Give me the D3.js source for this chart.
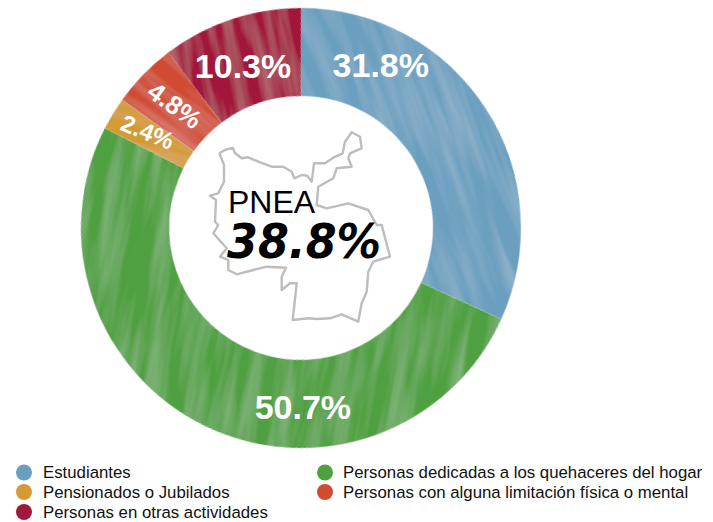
<!DOCTYPE html>
<html><head><meta charset="utf-8">
<script src="https://cdn.jsdelivr.net/npm/d3@7"></script>
<style>html,body{margin:0;padding:0;background:#fff}svg{display:block}text{font-family:"Liberation Sans",Arial,sans-serif}</style>
</head><body><div id="c"></div>
<script>
const categories=["Estudiantes","Personas dedicadas a los quehaceres del hogar","Pensionados o Jubilados","Personas con alguna limitación física o mental","Personas en otras actividades"];
const values=[31.8,50.7,2.4,4.8,10.3];
const colors=["#6a9fbf","#4fa03f","#d39a36","#d04c30","#a2183a"];
const labelSizes=[34,34,24,26,34];
const labelAngles=[0,0,22,36,0];
const labelTheta=[26,179.4,-57.9,-45.7,-19.7];
const labelRadius=[182,179,181,176,172];
const strokeAngles=[70,100,20,40,80];
const legendOrder=[0,2,4,1,3];
const centerTitle="PNEA";
const centerValue="38.8%";
const outline=[[9.3,28.3],[15,25],[22.7,22.7],[25,28],[31.7,33.3],[38.3,32.3],[48.3,36.7],[61.7,41.7],[73.3,41.7],[81.7,46.7],[84.3,53.3],[91.7,50],[97.3,50.7],[101.7,56.7],[104,38.3],[115,38.3],[123.3,32.7],[132.7,28.3],[135,16.7],[141.7,7.3],[150,11.7],[151.7,23.3],[140,28.3],[138.3,33.3],[141.7,41.7],[126.7,43.3],[123.3,53.3],[108.3,61.7],[106.7,80],[116.7,83.3],[138.3,78.3],[158.3,85],[166.7,100],[171.7,100],[180,131.7],[163.3,136.7],[158.3,146.7],[156.7,166.7],[151.7,178.3],[148.3,196.7],[131.7,189.3],[120,193.3],[106.7,194],[98.3,193.3],[82.7,195],[86.7,158.3],[80,158.3],[71.7,165],[71.7,151.7],[76,142.7],[56.7,141.7],[43.3,145],[26.7,149.3],[18.3,145],[18.3,135],[10,131.7],[16.7,123.3],[3.3,108.3],[8.3,100],[5,96.7],[6,75],[0,70.7],[8.3,68.3],[14,56.7],[14,40],[9.3,28.3]];

const W=713,H=522,cx=301,cy=228,R=220,r=132;
const svg=d3.select("#c").append("svg").attr("width",W).attr("height",H);
const defs=svg.append("defs");
const f=defs.append("filter").attr("id","paint").attr("x","-30%").attr("y","-30%").attr("width","160%").attr("height","160%");
f.append("feTurbulence").attr("type","fractalNoise").attr("baseFrequency","0.008 0.07").attr("numOctaves",3).attr("seed",11).attr("result","n");
f.append("feColorMatrix").attr("in","n").attr("type","matrix").attr("values","0 0 0 0 1  0 0 0 0 1  0 0 0 0 1  0.3 0 0 0 -0.11").attr("result","light");
f.append("feComposite").attr("in","light").attr("in2","SourceAlpha").attr("operator","in").attr("result","l2");
f.append("feMerge").selectAll("feMergeNode").data(["SourceGraphic","l2"]).join("feMergeNode").attr("in",d=>d);

const pie=d3.pie().sort(null).value(d=>d)(values);
const arc=d3.arc().innerRadius(r).outerRadius(R);
const g=svg.append("g").attr("transform",`translate(${cx},${cy})`);
pie.forEach((d,i)=>{
  g.append("g").attr("transform",`rotate(${strokeAngles[i]})`).append("g").attr("filter","url(#paint)")
   .append("path").attr("transform",`rotate(${-strokeAngles[i]})`).attr("d",arc(d)).attr("fill",colors[i]);
});
values.forEach((v,i)=>{
  const a=labelTheta[i]*Math.PI/180;
  g.append("text").attr("transform",`translate(${labelRadius[i]*Math.sin(a)},${-labelRadius[i]*Math.cos(a)}) rotate(${labelAngles[i]})`)
   .attr("text-anchor","middle").attr("dy","0.36em").attr("font-weight","bold").attr("fill","#fff")
   .attr("font-size",labelSizes[i]).text(v.toFixed(1)+"%");
});

const mx=d3.scaleLinear().domain([0,180]).range([210,390]);
const my=d3.scaleLinear().domain([0,200]).range([125,325]);
svg.append("path").attr("d",d3.line().x(d=>mx(d[0])).y(d=>my(d[1]))(outline))
 .attr("fill","none").attr("stroke","#bdbdbd").attr("stroke-width",2.4).attr("stroke-linejoin","round");
svg.append("text").attr("x",228).attr("y",213).attr("font-size",32).attr("fill","#000").text(centerTitle);
svg.append("text").attr("x",227).attr("y",258).attr("font-size",48).attr("font-weight","bold").attr("font-style","italic").attr("fill","#000").style("font-family","'DejaVu Sans',sans-serif").attr("textLength",154).attr("lengthAdjust","spacingAndGlyphs").text(centerValue);

const lx=d3.scaleOrdinal().domain([0,1]).range([24,325]);
const ly=d3.scaleOrdinal().domain([0,1,2]).range([472.5,492,512]);
legendOrder.forEach((c,i)=>{
  const col=i<3?0:1,row=i<3?i:i-3;
  svg.append("circle").attr("cx",lx(col)).attr("cy",ly(row)).attr("r",8).attr("fill",colors[c]);
  svg.append("text").attr("x",lx(col)+(col?18:19)).attr("y",ly(row)).attr("dy","0.35em").attr("font-size",16.8).attr("fill","#111").text(categories[c]);
});
</script></body></html>
